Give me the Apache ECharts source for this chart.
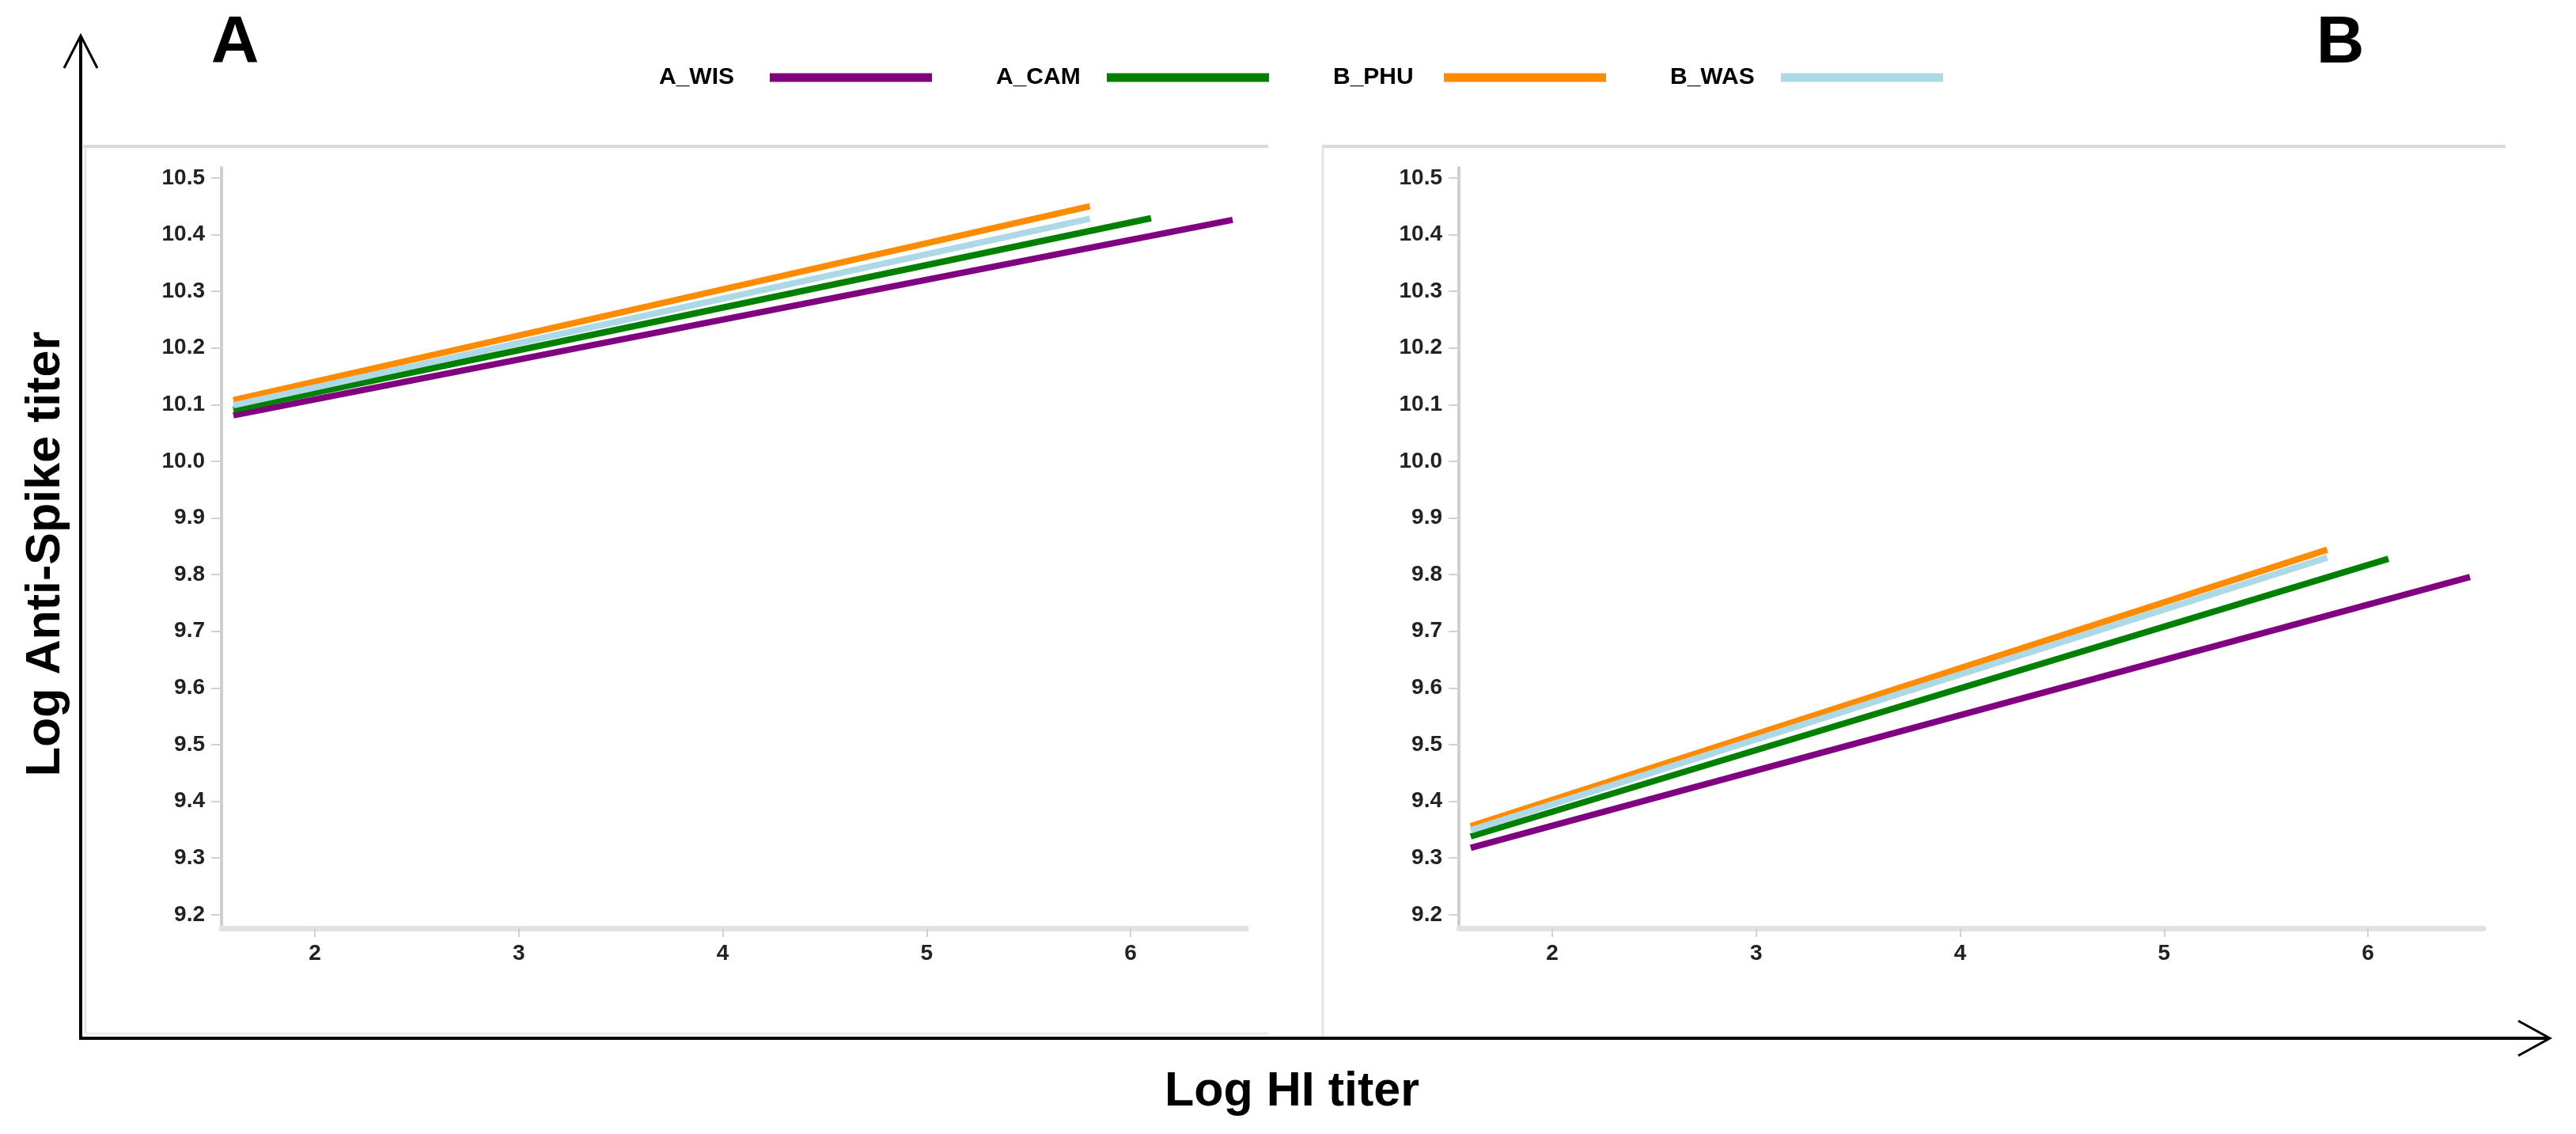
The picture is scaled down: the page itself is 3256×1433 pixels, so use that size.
<!DOCTYPE html>
<html>
<head>
<meta charset="utf-8">
<script src="https://cdn.jsdelivr.net/npm/echarts@6/dist/echarts.min.js"></script>
<style>
html,body{margin:0;padding:0;background:#fff;}
#chart{width:3256px;height:1433px;}
</style>
</head>
<body>
<div id="chart"></div>
<script>
// ---- data ----
const seriesNames = ['A_WIS', 'A_CAM', 'B_PHU', 'B_WAS'];
const seriesColors = ['#800080', '#008000', '#ff8c00', '#add8e6'];
const xStart = [1.6, 1.6, 1.6, 1.6];
const xEnd = [6.5, 6.1, 5.8, 5.8];
const panelAStart = [10.081, 10.091, 10.108, 10.099];
const panelAEnd = [10.426, 10.429, 10.450, 10.428];
const panelBStart = [9.318, 9.338, 9.356, 9.349];
const panelBEnd = [9.796, 9.828, 9.844, 9.830];
const xTicks = [2, 3, 4, 5, 6];
const yTicks = [9.2, 9.3, 9.4, 9.5, 9.6, 9.7, 9.8, 9.9, 10.0, 10.1, 10.2, 10.3, 10.4, 10.5];
const panelLetters = ['A', 'B'];
const xTitle = 'Log HI titer';
const yTitle = 'Log Anti-Spike titer';

const FONT = "'Liberation Sans', Arial, Helvetica, sans-serif";
const chart = echarts.init(document.getElementById('chart'), null, {renderer: 'canvas'});

function xAxisCfg(gridIndex) {
  return {
    type: 'value', gridIndex: gridIndex, min: 1.542, max: 6.566,
    axisLine: {show: true, onZero: false, lineStyle: {color: '#e1e2e4', width: 7}},
    axisTick: {show: true, customValues: xTicks, length: 11, lineStyle: {color: '#cfd1d4', width: 2}},
    axisLabel: {show: true, customValues: xTicks, margin: 18, fontSize: 28, fontWeight: 'bold', fontFamily: FONT, color: '#222'},
    splitLine: {show: false}
  };
}
function yAxisCfg(gridIndex) {
  return {
    type: 'value', gridIndex: gridIndex, min: 9.176, max: 10.518,
    axisLine: {show: true, onZero: false, lineStyle: {color: '#cdd0d3', width: 4}},
    axisTick: {show: true, customValues: yTicks, length: 13, lineStyle: {color: '#cfd1d4', width: 2}},
    axisLabel: {show: true, customValues: yTicks, margin: 21, fontSize: 28, fontWeight: 'bold', fontFamily: FONT, color: '#222',
      formatter: v => v.toFixed(1)},
    splitLine: {show: false}
  };
}

const series = [];
[[panelAStart, panelAEnd], [panelBStart, panelBEnd]].forEach((p, gi) => {
  seriesNames.forEach((name, i) => {
    series.push({
      type: 'line', name: name, xAxisIndex: gi, yAxisIndex: gi,
      data: [[xStart[i], p[0][i]], [xEnd[i], p[1][i]]],
      symbol: 'none', showSymbol: false, silent: true,
      color: seriesColors[i],
      lineStyle: {color: seriesColors[i], width: 8, cap: 'butt'},
      emphasis: {disabled: true}
    });
  });
});

const black = '#000';
const graphics = [
  // panel frames
  {type: 'line', shape: {x1: 105, y1: 185, x2: 1603, y2: 185}, style: {stroke: '#d9d9d9', lineWidth: 4}},
  {type: 'line', shape: {x1: 108, y1: 185, x2: 108, y2: 1306}, style: {stroke: '#e4e4e4', lineWidth: 3}},
  {type: 'line', shape: {x1: 108, y1: 1306, x2: 1603, y2: 1306}, style: {stroke: '#ededed', lineWidth: 3}},
  {type: 'line', shape: {x1: 1672, y1: 183, x2: 1672, y2: 1311}, style: {stroke: '#e4e4e4', lineWidth: 3}},
  {type: 'line', shape: {x1: 1672, y1: 185, x2: 3167, y2: 185}, style: {stroke: '#d9d9d9', lineWidth: 4}},
  // outer arrows
  {type: 'line', shape: {x1: 102, y1: 46, x2: 102, y2: 1314}, style: {stroke: black, lineWidth: 4}},
  {type: 'polyline', shape: {points: [[81, 86], [102, 45], [123, 86]]}, style: {stroke: black, lineWidth: 3, fill: null}},
  {type: 'line', shape: {x1: 100, y1: 1312, x2: 3222, y2: 1312}, style: {stroke: black, lineWidth: 4}},
  {type: 'polyline', shape: {points: [[3183, 1290], [3223, 1312], [3183, 1334]]}, style: {stroke: black, lineWidth: 3, fill: null}},
  // panel letters
  {type: 'text', x: 297, y: 56, style: {text: panelLetters[0], fontSize: 84, fontWeight: 'bold', fontFamily: FONT, fill: black, align: 'center', verticalAlign: 'middle'}},
  {type: 'text', x: 2958, y: 56, style: {text: panelLetters[1], fontSize: 84, fontWeight: 'bold', fontFamily: FONT, fill: black, align: 'center', verticalAlign: 'middle'}},
  // axis titles
  {type: 'text', x: 1633, y: 1380, style: {text: xTitle, fontSize: 61, fontWeight: 'bold', fontFamily: FONT, fill: black, align: 'center', verticalAlign: 'middle'}},
  {type: 'text', x: 58, y: 700, rotation: Math.PI / 2, style: {text: yTitle, fontSize: 61, fontWeight: 'bold', fontFamily: FONT, fill: black, align: 'center', verticalAlign: 'middle'}}
];

chart.setOption({
  animation: false,
  backgroundColor: '#fff',
  legend: {
    show: true, left: 833, top: 83, padding: 0, orient: 'horizontal', align: 'right',
    itemWidth: 205, itemHeight: 11, itemGap: 81, selectedMode: false,
    data: seriesNames.map((n, i) => ({name: n, icon: 'rect', itemStyle: {color: seriesColors[i], borderWidth: 0}})),
    formatter: '{a|{name}}',
    textStyle: {
      fontSize: 30, fontWeight: 'bold', fontFamily: FONT, color: '#000',
      rich: {a: {width: 135, align: 'left', fontSize: 30, fontWeight: 'bold', fontFamily: FONT, color: '#000'}}
    }
  },
  grid: [
    {left: 280, top: 212, width: 1295, height: 961, containLabel: false},
    {left: 1844, top: 212, width: 1295, height: 961, containLabel: false}
  ],
  xAxis: [xAxisCfg(0), xAxisCfg(1)],
  yAxis: [yAxisCfg(0), yAxisCfg(1)],
  series: series,
  graphic: graphics
});
</script>
</body>
</html>
